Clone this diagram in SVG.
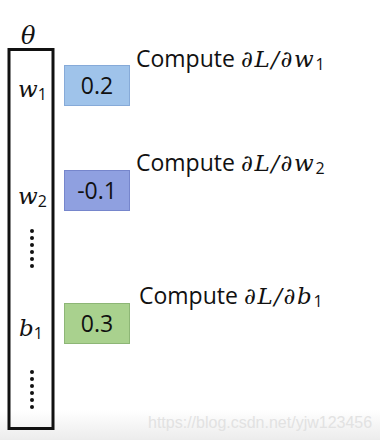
<svg xmlns="http://www.w3.org/2000/svg" width="380" height="440" viewBox="0 0 380 440">
<defs>
<linearGradient id="fade" x1="0" y1="0" x2="0" y2="1">
<stop offset="0" stop-color="#ffffff"/>
<stop offset="1" stop-color="#ececec"/>
</linearGradient>
</defs>
<style>
.math{font-family:"DejaVu Serif","Liberation Serif",serif;font-style:italic;fill:#111}
.sub{font-family:"Open Sans","Liberation Sans",sans-serif;font-style:normal;fill:#111}
.val{font-family:"Open Sans","Liberation Sans",sans-serif;font-size:23px;fill:#111;text-anchor:middle}
.lbl{font-family:"Open Sans","Liberation Sans",sans-serif;font-size:23px;fill:#111}
.sp{letter-spacing:1.6px}
.dot{fill:#111}
</style>
<rect x="0" y="0" width="380" height="440" fill="#ffffff"/>
<rect x="0" y="410" width="380" height="30" fill="url(#fade)"/>
<text x="148" y="428" font-family="Liberation Sans, sans-serif" font-size="16" fill="#e2e2e2">https://blog.csdn.net/yjw123456</text>

<g id="theta-vector">
<text class="math" x="21" y="44" font-size="24">θ</text>
<rect x="9" y="49.5" width="44" height="379" fill="none" stroke="#111" stroke-width="3"/>
<text class="math" x="18" y="97" font-size="23">w<tspan class="sub" font-size="16" dy="3">1</tspan></text>
<text class="math" x="18" y="204" font-size="23">w<tspan class="sub" font-size="16" dy="3">2</tspan></text>
<g class="dot">
<circle cx="32" cy="231" r="2"/><circle cx="32" cy="238" r="2"/><circle cx="32" cy="245" r="2"/><circle cx="32" cy="252" r="2"/><circle cx="32" cy="259" r="2"/><circle cx="32" cy="266" r="2"/>
</g>
<text class="math" x="19" y="336" font-size="23">b<tspan class="sub" font-size="16" dy="3">1</tspan></text>
<g class="dot">
<circle cx="32" cy="372" r="2"/><circle cx="32" cy="379" r="2"/><circle cx="32" cy="386" r="2"/><circle cx="32" cy="393" r="2"/><circle cx="32" cy="400" r="2"/><circle cx="32" cy="407" r="2"/>
</g>
</g>

<g id="grad-w1">
<rect x="64.5" y="65.5" width="65" height="40" fill="#9fc3ea" stroke="#86aad8" stroke-width="1"/>
<text class="val" x="97" y="94">0.2</text>
</g>
<g id="grad-w2">
<rect x="64.5" y="170.5" width="65" height="40" fill="#8fa0e0" stroke="#7686cc" stroke-width="1"/>
<text class="val" x="97" y="199">-0.1</text>
</g>
<g id="grad-b1">
<rect x="64.5" y="303.5" width="65" height="40" fill="#a9d18e" stroke="#8db676" stroke-width="1"/>
<text class="val" x="97" y="332">0.3</text>
</g>

<g id="label-w1">
<text class="lbl" x="136" y="67">Compute <tspan class="math sp" font-size="23">∂L/∂w</tspan><tspan class="sub" font-size="16" dy="3">1</tspan></text>
</g>
<g id="label-w2">
<text class="lbl" x="136" y="171">Compute <tspan class="math sp" font-size="23">∂L/∂w</tspan><tspan class="sub" font-size="16" dy="3">2</tspan></text>
</g>
<g id="label-b1">
<text class="lbl" x="139" y="304">Compute <tspan class="math sp" font-size="23">∂L/∂b</tspan><tspan class="sub" font-size="16" dy="3">1</tspan></text>
</g>
</svg>
